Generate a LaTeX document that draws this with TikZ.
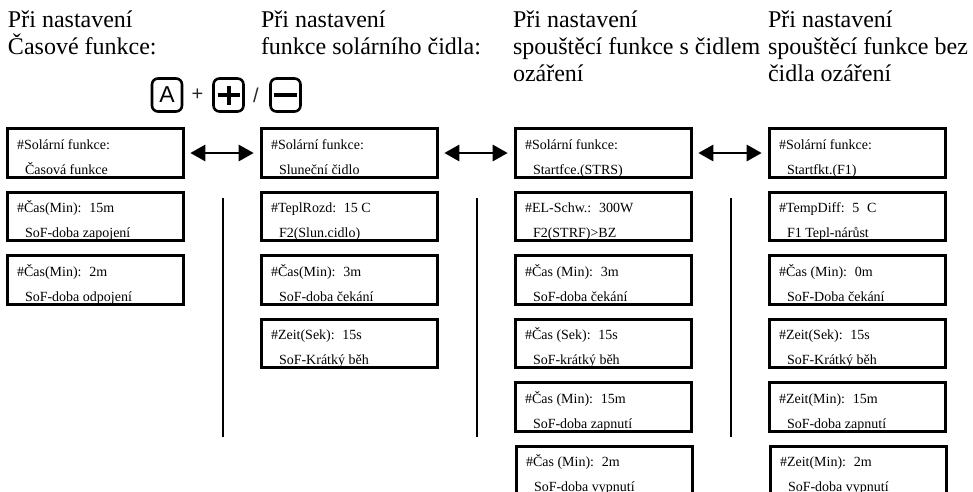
\documentclass[tikz,border=0pt]{standalone}
\usepackage{fontspec}
\setmainfont{Liberation Serif}
\newfontfamily\keyfont{Liberation Sans}
\usetikzlibrary{arrows.meta}
\tikzset{
  lcdtxt/.style={anchor=base west, inner sep=0pt, outer sep=0pt, font=\fontsize{14}{16}\selectfont},
  lcdbox/.style={anchor=north west, draw=black, line width=3.3pt, minimum width=175.6pt, minimum height=48.6pt, inner sep=0pt, outer sep=0pt},
  headtxt/.style={anchor=base west, inner sep=0pt, outer sep=0pt, font=\fontsize{24}{27}\selectfont},
  keybox/.style={draw=black, line width=2.6pt, rounded corners=6pt, minimum width=30pt, minimum height=33pt, inner sep=0pt, font=\keyfont\fontsize{23}{25}\selectfont},
  keysep/.style={inner sep=0pt, font=\keyfont\fontsize{20}{22}\selectfont, text=black!85},
  dblarrow/.style={line width=2.8pt, {Triangle[length=15pt,width=16pt]}-{Triangle[length=15pt,width=16pt]}, shorten <=7pt, shorten >=8pt},
  sepline/.style={line width=2pt}
}
\newcommand\lcd[5]{%
  \node[lcdtxt] (#1a) at (#2+11,#3+22) {#4};
  \node[lcdtxt] (#1b) at (#2+19,#3+47) {#5};
  \node[lcdbox] (#1) at (#2+1.7,#3+1.7) {};
}
\begin{document}
\begin{tikzpicture}[x=1pt,y=-1pt]
\fill[white] (0,0) rectangle (973,491);
\clip (0,0) rectangle (973,491);

% headers
\node[headtxt] (h1a) at (8,27) {Při nastavení};
\node[headtxt] (h1b) at (8,54) {Časové funkce:};
\node[headtxt] (h2a) at (261,27) {Při nastavení};
\node[headtxt] (h2b) at (261,54) {funkce solárního čidla:};
\node[headtxt] (h3a) at (513,27) {Při nastavení};
\node[headtxt] (h3b) at (513,54) {spouštěcí funkce s čidlem};
\node[headtxt] (h3c) at (513,81) {ozáření};
\node[headtxt] (h4a) at (768,27) {Při nastavení};
\node[headtxt] (h4b) at (768,54) {spouštěcí funkce bez};
\node[headtxt] (h4c) at (768,81) {čidla ozáření};

% keys
\node[keybox] (kA) at (167,95) {A};
\node[keysep] (kp) at (197.5,95) {+};
\node[keybox] (kPlus) at (228.5,95) {};
\draw[line width=4pt] ([xshift=-11pt]kPlus.center) -- ([xshift=11pt]kPlus.center);
\draw[line width=4pt] ([yshift=9.5pt]kPlus.center) -- ([yshift=-9.5pt]kPlus.center);
\node[keysep] (ks) at (256,95) {/};
\node[keybox] (kMinus) at (285.5,95) {};
\draw[line width=4pt] ([xshift=-11.5pt]kMinus.center) -- ([xshift=11.5pt]kMinus.center);

% column 1
\lcd{a1}{6}{127}{\#Solární funkce:}{Časová funkce}
\lcd{a2}{6}{190.5}{\#Čas(Min):\hspace{0.55em}15m}{SoF-doba zapojení}
\lcd{a3}{6}{254}{\#Čas(Min):\hspace{0.55em}2m}{SoF-doba odpojení}

% column 2
\lcd{b1}{260}{127}{\#Solární funkce:}{Sluneční čidlo}
\lcd{b2}{260}{190.5}{\#TeplRozd:\hspace{0.55em}15 C}{F2(Slun.cidlo)}
\lcd{b3}{260}{254}{\#Čas(Min):\hspace{0.55em}3m}{SoF-doba čekání}
\lcd{b4}{260}{317.5}{\#Zeit(Sek):\hspace{0.55em}15s}{SoF-Krátký běh}

% column 3
\lcd{c1}{514}{127}{\#Solární funkce:}{Startfce.(STRS)}
\lcd{c2}{514}{190.5}{\#EL-Schw.:\hspace{0.55em}300W}{F2(STRF)>BZ}
\lcd{c3}{514}{254}{\#Čas (Min):\hspace{0.55em}3m}{SoF-doba čekání}
\lcd{c4}{514}{317.5}{\#Čas (Sek):\hspace{0.55em}15s}{SoF-krátký běh}
\lcd{c5}{514}{381}{\#Čas (Min):\hspace{0.55em}15m}{SoF-doba zapnutí}
\lcd{c6}{515}{444.5}{\#Čas (Min):\hspace{0.55em}2m}{SoF-doba vypnutí}

% column 4
\lcd{d1}{768}{127}{\#Solární funkce:}{Startfkt.(F1)}
\lcd{d2}{768}{190.5}{\#TempDiff:\hspace{0.55em}5\hspace{0.55em}C}{F1 Tepl-nárůst}
\lcd{d3}{768}{254}{\#Čas (Min):\hspace{0.55em}0m}{SoF-Doba čekání}
\lcd{d4}{768}{317.5}{\#Zeit(Sek):\hspace{0.55em}15s}{SoF-Krátký běh}
\lcd{d5}{768}{381}{\#Zeit(Min):\hspace{0.55em}15m}{SoF-doba zapnutí}
\lcd{d6}{769}{444.5}{\#Zeit(Min):\hspace{0.55em}2m}{SoF-doba vypnutí}

% arrows
\draw[dblarrow] (a1.east) -- (b1.west);
\draw[dblarrow] (b1.east) -- (c1.west);
\draw[dblarrow] (c1.east) -- (d1.west);

% separator lines
\coordinate (v1t) at (223,198); \coordinate (v1b) at (223,437);
\coordinate (v2t) at (477,198); \coordinate (v2b) at (477,437);
\coordinate (v3t) at (731,198); \coordinate (v3b) at (731,437);
\draw[sepline] (v1t) -- (v1b);
\draw[sepline] (v2t) -- (v2b);
\draw[sepline] (v3t) -- (v3b);
\end{tikzpicture}
\end{document}
